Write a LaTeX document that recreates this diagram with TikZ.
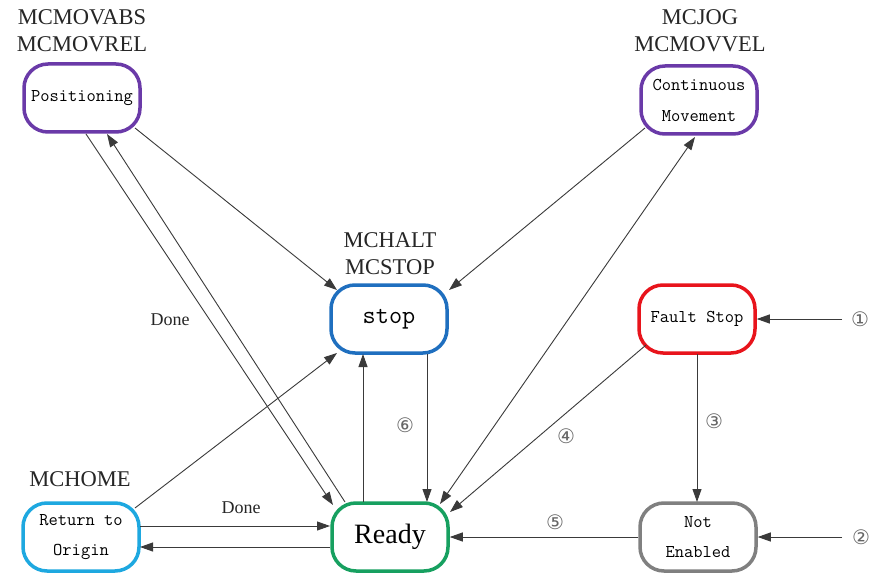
\documentclass[tikz,border=0pt]{standalone}
\usepackage{fontspec}
\setmainfont{Liberation Serif}
\newfontfamily\circfont{DejaVu Sans}
\usetikzlibrary{arrows.meta,calc}
\definecolor{cpurple}{HTML}{6A3AA8}
\definecolor{cblue}{HTML}{1F6FBF}
\definecolor{cred}{HTML}{E8141C}
\definecolor{cgray}{HTML}{808080}
\definecolor{ccyan}{HTML}{1EA8E0}
\definecolor{cgreen}{HTML}{17A060}
\definecolor{linec}{HTML}{3A3A3A}
\begin{document}
\begin{tikzpicture}[x=1pt,y=-1pt,
 state/.style={draw,rounded corners=24pt,line width=3.5pt,minimum width=116pt,minimum height=68pt,align=center,inner sep=0pt,font=\ttfamily\fontsize{18}{30}\selectfont},
 conn/.style={draw=linec,line width=0.9pt,-{Triangle[length=13pt,width=9pt]}},
 bidir/.style={draw=linec,line width=0.9pt,{Triangle[length=13pt,width=9pt]}-{Triangle[length=13pt,width=9pt]}},
 cmd/.style={font=\fontsize{22.5}{27}\selectfont,align=center,text=black!85},
 num/.style={font=\circfont\fontsize{20}{20}\selectfont,text=black!60},
 done/.style={font=\fontsize{18}{18}\selectfont,text=black!85}
]
\useasboundingbox (0,0) rectangle (880,577);
\fill[white] (0,0) rectangle (880,577);

% states
\node[state,draw=cpurple] (pos) at (82,98) {Positioning};
\node[state,draw=cpurple] (cont) at (699,100) {Continuous\\[1pt]Movement};
\node[state,draw=cblue,font=\ttfamily\fontsize{25.5}{25.5}\selectfont] (stop) at (389,319) {stop};
\node[state,draw=cred] (fault) at (697,319) {Fault Stop};
\node[state,draw=cgray] (noten) at (698,537) {Not\\Enabled};
\node[state,draw=ccyan] (ret) at (81,537) {Return to\\Origin};
\node[state,draw=cgreen,font=\fontsize{28}{28}\selectfont] (ready) at (390,537) {Ready};

% command labels
\node[cmd] (lpos) at (82,31) {MCMOVABS\\MCMOVREL};
\node[cmd] (lcont) at (700,31) {MCJOG\\MCMOVVEL};
\node[cmd] (lstop) at (390,254) {MCHALT\\MCSTOP};
\node[cmd] (lret) at (80,479) {MCHOME};

% free ends
\coordinate (in1) at (842,319);
\coordinate (in2) at (842,537);

% connectors
\draw[conn] ($(pos)+(53,30)$) -- ($(stop)+(-52,-29)$);
\draw[conn] ($(pos)+(4,36)$) -- ($(ready)+(-57,-32)$);
\draw[conn] ($(ready)+(-45,-35)$) -- ($(pos)+(25,36)$);
\draw[conn] ($(cont)+(-54,28)$) -- ($(stop)+(60,-29)$);
\draw[bidir] ($(ready)+(50,-33)$) -- ($(cont)+(-4,37)$);
\draw[conn] ($(ret)+(54,-29)$) -- ($(stop)+(-52,34)$);
\draw[conn] ($(ready)+(-27,-35)$) -- ($(stop)+(-26,35)$);
\draw[conn] ($(stop)+(38,35)$) -- ($(ready)+(37,-35)$);
\draw[conn] ($(fault)+(-51,26)$) -- ($(ready)+(60,-25)$);
\draw[conn] ($(fault)+(0,35)$) -- ($(noten)+(-1,-35)$);
\draw[conn] (in1) -- (fault.east);
\draw[conn] (in2) -- (noten.east);
\draw[conn] (noten.west) -- (ready.east);
\draw[conn] ($(ret)+(59,-11)$) -- ($(ready)+(-60,-11)$);
\draw[conn] ($(ready)+(-60,10)$) -- ($(ret)+(59,10)$);

% edge labels
\node[done] (d1) at (170,320) {Done};
\node[done] (d2) at (241,508) {Done};
\node[num] (n1) at (860,319) {①};
\node[num] (n2) at (861,537) {②};
\node[num] (n3) at (714,421) {③};
\node[num] (n4) at (566,436) {④};
\node[num] (n5) at (555,522) {⑤};
\node[num] (n6) at (405,425) {⑥};
\end{tikzpicture}
\end{document}
